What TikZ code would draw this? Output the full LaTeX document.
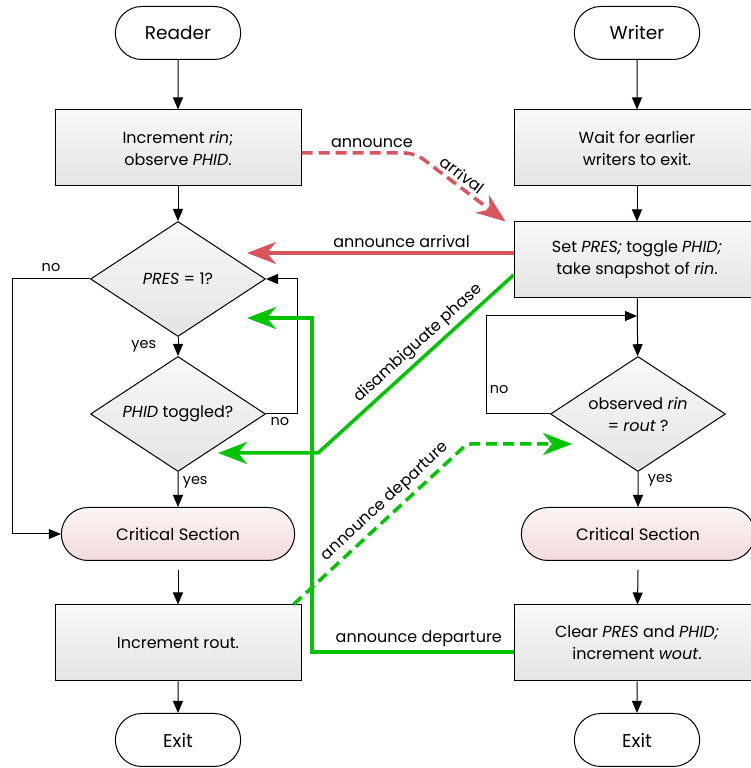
\documentclass[tikz,border=0pt]{standalone}
\usepackage{fontspec}
\setmainfont{Poppins}
\usetikzlibrary{shapes.geometric,shapes.misc,arrows.meta}
\definecolor{annred}{RGB}{218,84,94}
\definecolor{anngreen}{RGB}{0,196,0}
\definecolor{boxtop}{RGB}{248,248,248}
\definecolor{boxbot}{RGB}{228,228,228}
\definecolor{crittop}{RGB}{252,244,244}
\definecolor{critbot}{RGB}{242,218,218}
\tikzset{
  txt/.style={font=\fontsize{16}{22}\selectfont},
  lbl/.style={font=\fontsize{14.5}{18}\selectfont},
  term/.style={draw,line width=1pt,rounded rectangle,minimum width=132pt,minimum height=53pt,fill=white,font=\fontsize{18.5}{22}\selectfont},
  crit/.style={draw,line width=1pt,rounded rectangle,minimum width=240pt,minimum height=53pt,top color=crittop,bottom color=critbot,font=\fontsize{16.5}{20}\selectfont},
  procbox/.style={draw,line width=1pt,rectangle,minimum width=246pt,minimum height=76pt,top color=boxtop,bottom color=boxbot,align=center,txt},
  decision/.style={draw,line width=1pt,diamond,aspect=1.52,inner sep=0pt,minimum width=175pt,minimum height=115pt,top color=boxtop,bottom color=boxbot,align=center,txt},
  flow/.style={line width=1pt,-{Triangle[length=12pt,width=10pt]}},
  bigtip/.tip={Stealth[length=29pt,width=22pt,inset=9pt]},
  msg/.style={line width=3.5pt,txt},
  msgdash/.style={line width=3.5pt,dash pattern=on 11pt off 6pt,txt}
}
\begin{document}
\begin{tikzpicture}[x=1pt,y=1pt]
\useasboundingbox (0,0) rectangle (751,768);
\clip (0,0) rectangle (751,768);
% reader side
\node[term] (rd) at (178,735) {Reader};
\node[procbox] (rinc) at (178,620) {Increment \textit{rin};\\observe \textit{PHID}.};
\node[decision] (pres) at (178,489) {\textit{PRES} = 1?};
\node[decision] (phid) at (178,354) {\textit{PHID} toggled?};
\node[crit] (critr) at (178,234) {Critical Section};
\node[procbox] (rout) at (178,125) {Increment rout.};
\node[term] (exr) at (178,28) {Exit};
% writer side
\node[term] (wr) at (637,735) {Writer};
\node[procbox] (wait) at (637,620) {Wait for earlier\\writers to exit.};
\node[procbox] (setp) at (637,508) {Set \textit{PRES;} toggle \textit{PHID;}\\take snapshot of \textit{rin}.};
\node[decision] (obs) at (638,354) {observed \textit{rin}\\= \textit{rout} ?};
\node[crit] (critw) at (638,234) {Critical Section};
\node[procbox] (clr) at (637,125) {Clear \textit{PRES} and \textit{PHID;}\\increment \textit{wout}.};
\node[term] (exw) at (637,28) {Exit};
\coordinate (loopin) at (637,452);

\draw[flow] (rd) -- (rinc);
\draw[flow] (rinc) -- (pres);
\draw[flow] (pres) -- node[lbl,left=18pt,pos=0.5]{yes} (phid);
\draw[flow] (phid) -- node[lbl,right=1pt,pos=0.3]{yes} (critr);
\draw[flow] (pres.west) -- node[lbl,above=4pt,pos=0.5]{no} (12,489) |- (critr.west);
\draw[flow] (phid.east) -- node[lbl,below,pos=0.45]{no} (297,354) |- (pres.east);
\draw[flow] ([yshift=-9pt]critr.south) -- (rout);
\draw[flow] (rout) -- (exr);

\draw[flow] (wr) -- (wait);
\draw[flow] (wait) -- (setp);
\draw[flow] (setp) -- (obs);
\draw[flow] (obs.west) -- (486,354) -- node[lbl,right,pos=0.25]{no} (486,452) -- (loopin);
\draw[flow] (obs) -- node[lbl,right=6pt,pos=0.25]{yes} (critw);
\draw[flow] ([yshift=-9pt]critw.south) -- (clr);
\draw[flow] (clr) -- (exw);

% messages between the two sides
\draw[msgdash,annred,rounded corners=10pt,-{bigtip}] ([yshift=-5pt]rinc.east) -- node[black,above,pos=0.62]{announce} (415,615) -- node[black,above,sloped,pos=0.45]{arrival} ([xshift=-8pt]setp.north west);
\draw[msg,annred,-{bigtip}] ([yshift=7pt]setp.west) -- node[black,above,pos=0.42]{announce arrival} ([xshift=-19pt,yshift=26pt]pres.east);
\draw[msg,anngreen,{bigtip}-] ([xshift=-48pt,yshift=-39pt]phid.east) -- (318,315) -- node[black,above,sloped,pos=0.56]{disambiguate phase} ([yshift=-15pt]setp.west);
\draw[msg,anngreen,-{bigtip}] ([yshift=-9pt]clr.west) -- node[black,above,pos=0.47]{announce departure} (312,116) -- (312,450) -- ([xshift=-19pt,yshift=-39pt]pres.east);
\draw[msgdash,anngreen,rounded corners=4pt,-{bigtip}] ([xshift=-8pt]rout.north east) -- node[black,above,sloped,pos=0.58]{announce departure} (467,324) -- ([xshift=22pt,yshift=-30pt]obs.west);
\end{tikzpicture}
\end{document}
